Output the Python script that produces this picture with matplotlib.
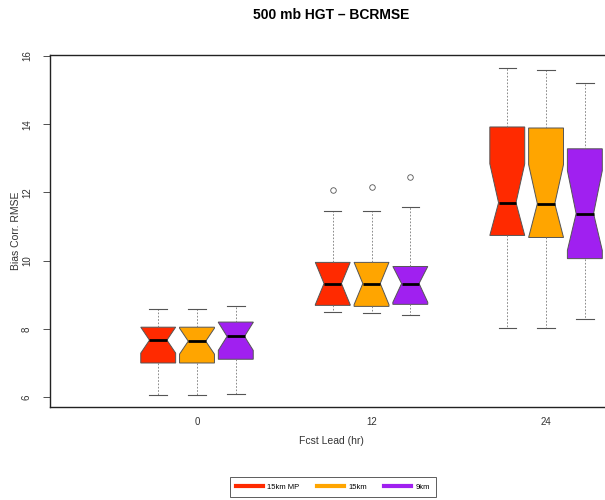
import matplotlib
matplotlib.use('Agg')
import matplotlib.pyplot as plt
from matplotlib.lines import Line2D

plt.rcParams['font.family'] = ['Liberation Sans', 'DejaVu Sans']

leads = ['0', '12', '24']
runs = ['15km MP', '15km', '9km']
colors = ['#FF2A00', '#FFA500', '#A020F0']

# stats per run, one value per lead time
med = [[7.67, 9.33, 11.70], [7.64, 9.33, 11.67], [7.78, 9.33, 11.38]]
q1 = [[7.00, 8.69, 10.74], [7.00, 8.66, 10.68], [7.11, 8.72, 10.06]]
q3 = [[8.05, 9.95, 13.92], [8.05, 9.95, 13.89], [8.20, 9.83, 13.28]]
whislo = [[6.06, 8.49, 8.02], [6.06, 8.46, 8.02], [6.09, 8.40, 8.28]]
whishi = [[8.57, 11.47, 15.65], [8.57, 11.47, 15.59], [8.66, 11.58, 15.21]]
cilo = [[7.29, 8.71, 10.74], [7.26, 8.71, 10.68], [7.37, 8.78, 10.30]]
cihi = [[8.05, 9.95, 12.84], [8.02, 9.95, 12.82], [8.19, 9.83, 12.64]]
fliers = [[[], [12.08], []], [[], [12.17], []], [[], [12.46], []]]

fig = plt.figure(figsize=(6.05, 5.0), dpi=100)
ax = fig.add_axes([50 / 605, 93 / 500, 562 / 605, 352 / 500])

group_gap = 4.5
for r in range(3):
    stats = []
    pos = []
    for g in range(3):
        stats.append(dict(med=med[r][g], q1=q1[r][g], q3=q3[r][g],
                          whislo=whislo[r][g], whishi=whishi[r][g],
                          cilo=cilo[r][g], cihi=cihi[r][g],
                          fliers=fliers[r][g]))
        pos.append(1 + r + g * group_gap)
    ax.bxp(stats, positions=pos, widths=0.9, shownotches=True,
           patch_artist=True, manage_ticks=False,
           boxprops=dict(facecolor=colors[r], edgecolor='#555555', linewidth=0.7),
           medianprops=dict(color='black', linewidth=2),
           whiskerprops=dict(color='#777777', linewidth=0.6, linestyle=(0, (2, 2))),
           capprops=dict(color='#555555', linewidth=0.8),
           flierprops=dict(marker='o', markersize=4, markerfacecolor='none',
                           markeredgecolor='#555555', markeredgewidth=0.6))

ax.set_xlim(-1.79, 12.70)
ax.set_ylim(5.71, 16.03)
ax.set_xticks([2 + g * group_gap for g in range(3)])
ax.set_xticklabels(leads)
ax.set_yticks([6, 8, 10, 12, 14, 16])
ax.set_yticklabels(['6', '8', '10', '12', '14', '16'], rotation=90, va='center')
ax.tick_params(axis='x', length=0, pad=7, labelsize=7, colors='#333333')
ax.tick_params(axis='y', length=5, width=0.6, pad=8, labelsize=7, colors='#333333')
for s in ax.spines.values():
    s.set_linewidth(1.0)
    s.set_color('#222222')

ax.set_xlabel('Fcst Lead (hr)', fontsize=7.5, color='#333333', labelpad=7)
ax.set_ylabel('Bias Corr. RMSE', fontsize=7.5, color='#333333', labelpad=1)
ax.set_title('500 mb HGT \u2013 BCRMSE', fontsize=10, fontweight='bold', pad=26)

handles = [Line2D([], [], color=c, linewidth=3) for c in colors]
leg = fig.legend(handles, runs, loc='center', bbox_to_anchor=(333 / 605, 1 - 487 / 500),
                 ncol=3, fontsize=5.5, frameon=True, fancybox=False,
                 handlelength=3.5, columnspacing=2.3, borderpad=0.8, handletextpad=0.6)
leg.get_frame().set_edgecolor('#333333')
leg.get_frame().set_linewidth(0.7)

fig.savefig('out.png', dpi=100)
